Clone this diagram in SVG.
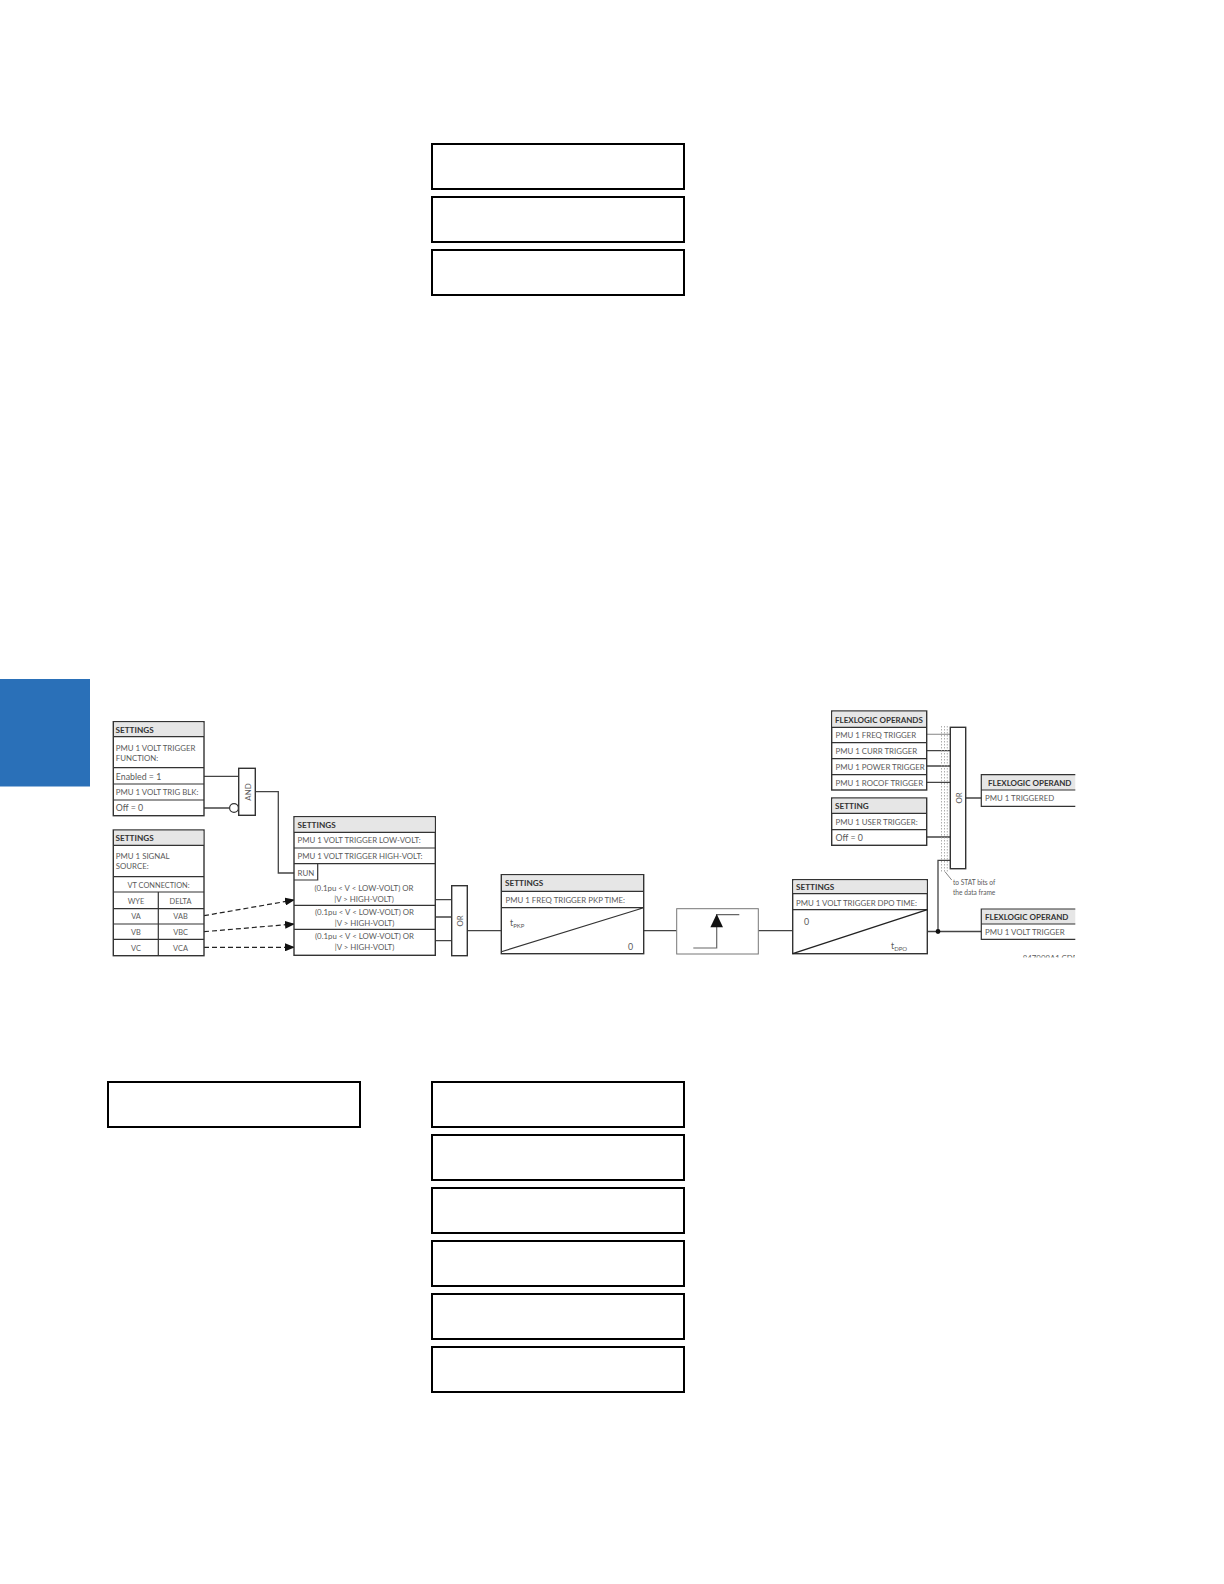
<svg xmlns="http://www.w3.org/2000/svg" width="1224" height="1584" viewBox="0 0 1224 1584">
<style>
text{font-family:Lato,"Liberation Sans",sans-serif;font-size:7.85px;fill:#5a5a5a}
.h{font-weight:700;fill:#333;font-size:8.2px}
.f{font-size:8px}
.l{font-size:8.8px}
.t{font-size:7.4px}
.hd{fill:#e6e6e6;stroke:none}
.b{fill:#fff;stroke:#333;stroke-width:1.4}
.n{fill:none;stroke:#333;stroke-width:1.2}
.c{fill:none;stroke:#444;stroke-width:1.3}
.d{fill:none;stroke:#222;stroke-width:1.2;stroke-dasharray:5 3}
.o{fill:none;stroke:#999;stroke-width:.8;stroke-dasharray:1.5 1.5}
.m{text-anchor:middle}
.w{fill:#fff;stroke:#000;stroke-width:2}
.s{font-size:6.6px}
</style>
<defs>
<marker id="a" markerWidth="10" markerHeight="8" refX="9" refY="4" orient="auto" markerUnits="userSpaceOnUse"><path d="M0 0L10 4L0 8Z" fill="#111"/></marker>
<clipPath id="k"><rect x="1000" y="945" width="75" height="12.5"/></clipPath>
</defs>
<rect id="tab" x="0" y="679" width="90" height="107.5" fill="#2a70b8"/>
<g id="empty-boxes">
<rect class="w" x="432" y="144" width="252" height="45"/>
<rect class="w" x="432" y="197" width="252" height="45"/>
<rect class="w" x="432" y="250" width="252" height="45"/>
<rect class="w" x="108" y="1082" width="252" height="45"/>
<rect class="w" x="432" y="1082" width="252" height="45"/>
<rect class="w" x="432" y="1135" width="252" height="45"/>
<rect class="w" x="432" y="1188" width="252" height="45"/>
<rect class="w" x="432" y="1241" width="252" height="45"/>
<rect class="w" x="432" y="1294" width="252" height="45"/>
<rect class="w" x="432" y="1347" width="252" height="45"/>
</g>
<g id="connectors">
<path class="c" d="M204 776.3H238.7M204 808H229.5M255.3 791.7H278.3V873H294M435.3 899.7H451.7M435.3 917H451.7M435.3 940.7H451.7M467.3 930.7H501.3M643.7 930.7H676.7M758.3 930.7H792.7M927.3 931.5H981.3M938 931.5V860.3H950.3M926.7 750.7H950.3M926.7 766H950.3M926.7 782.3H950.3M926.7 837H950.3M965.7 798H981.3"/>
<path d="M926.7 734.3H950.3" fill="none" stroke="#999" stroke-width="1.2"/>
<path class="d" d="M204 915.7L294 900" marker-end="url(#a)"/>
<path class="d" d="M204 931.7L294 924" marker-end="url(#a)"/>
<path class="d" d="M204 947.3H294" marker-end="url(#a)"/>
<path class="o" d="M941.5 726V872M944.5 726V872M947.3 726V872"/>
<path d="M945 871.7L951.7 880" fill="none" stroke="#666" stroke-width=".8"/>
<circle cx="938" cy="931.5" r="2.4" fill="#111"/>
</g>
<g id="volt-function">
<rect class="b" x="113.3" y="721.7" width="90.7" height="94"/>
<rect class="hd" x="114" y="722.4" width="89.3" height="14.3"/>
<path class="n" d="M113.3 736.7H204M113.3 767.7H204M113.3 784H204M113.3 800H204"/>
<text class="h" x="115.5" y="732.5">SETTINGS</text>
<text x="115.8" y="750.5">PMU 1 VOLT TRIGGER</text>
<text x="115.8" y="760.5">FUNCTION:</text>
<text class="l" x="115.8" y="780">Enabled = 1</text>
<text x="115.8" y="795">PMU 1 VOLT TRIG BLK:</text>
<text class="l" x="115.8" y="811">Off = 0</text>
</g>
<g id="and-gate">
<rect class="b" x="238.7" y="768.3" width="16.6" height="47"/>
<circle cx="234" cy="808" r="4.4" fill="#fff" stroke="#333" stroke-width="1.2"/>
<text class="m" transform="translate(251 792) rotate(-90)">AND</text>
</g>
<g id="signal-source">
<rect class="b" x="113.3" y="830" width="90.7" height="125.7"/>
<rect class="hd" x="114" y="830.7" width="89.3" height="14.6"/>
<path class="n" d="M113.3 845.3H204M113.3 876.7H204M113.3 892H204M113.3 908.7H204M113.3 924H204M113.3 939.3H204M158.3 892V955.7"/>
<text class="h" x="115.5" y="840.5">SETTINGS</text>
<text x="115.8" y="859">PMU 1 SIGNAL</text>
<text x="115.8" y="869">SOURCE:</text>
<text class="m t" x="158.6" y="887.5">VT CONNECTION:</text>
<text class="m t" x="136" y="904">WYE</text><text class="m t" x="180.5" y="904">DELTA</text>
<text class="m t" x="136" y="919">VA</text><text class="m t" x="180.5" y="919">VAB</text>
<text class="m t" x="136" y="935">VB</text><text class="m t" x="180.5" y="935">VBC</text>
<text class="m t" x="136" y="950.5">VC</text><text class="m t" x="180.5" y="950.5">VCA</text>
</g>
<g id="volt-levels">
<rect class="b" x="294" y="816.7" width="141.3" height="138.6"/>
<rect class="hd" x="294.7" y="817.4" width="139.9" height="14.9"/>
<path class="n" d="M294 832.3H435.3M294 848H435.3M294 863.7H435.3M294 905.3H435.3M294 929.3H435.3M317.7 863.7V880H294"/>
<text class="h" x="297.5" y="827.5">SETTINGS</text>
<text x="297.5" y="843">PMU 1 VOLT TRIGGER LOW-VOLT:</text>
<text x="297.5" y="858.5">PMU 1 VOLT TRIGGER HIGH-VOLT:</text>
<text x="297.5" y="876">RUN</text>
<text class="m" x="364" y="891">(0.1pu &lt; V &lt; LOW-VOLT)  OR</text>
<text class="m" x="364" y="902">|V &gt; HIGH-VOLT)</text>
<text class="m" x="364.5" y="915">(0.1pu &lt; V &lt; LOW-VOLT) OR</text>
<text class="m" x="364.5" y="925.5">|V &gt; HIGH-VOLT)</text>
<text class="m" x="364.5" y="939">(0.1pu &lt; V &lt; LOW-VOLT) OR</text>
<text class="m" x="364.5" y="950">|V &gt; HIGH-VOLT)</text>
</g>
<g id="or-gate-1">
<rect class="b" x="451.7" y="885.7" width="15.6" height="70"/>
<text class="m" transform="translate(463 921) rotate(-90)">OR</text>
</g>
<g id="pkp-timer">
<rect class="b" x="501.3" y="874.7" width="142.4" height="79"/>
<rect class="hd" x="502" y="875.4" width="141" height="15.9"/>
<path class="n" d="M501.3 891.3H643.7M501.3 907.7H643.7M501.3 951.7L643.7 907.7"/>
<text class="h" x="505" y="886">SETTINGS</text>
<text x="505.5" y="903">PMU 1 FREQ TRIGGER PKP TIME:</text>
<text class="l" x="510" y="926">t<tspan font-size="6" dy="2">PKP</tspan></text>
<text class="l" x="628" y="950">0</text>
</g>
<g id="edge-detector">
<rect x="676.7" y="908.7" width="81.6" height="45.3" fill="#fff" stroke="#777" stroke-width="1"/>
<path d="M693.3 948H716.7V914.7H739.3" fill="none" stroke="#666" stroke-width="1.2"/>
<path d="M716.7 914L723 927.3H710.4Z" fill="#111"/>
</g>
<g id="dpo-timer">
<rect class="b" x="792.7" y="879.7" width="134.6" height="74"/>
<rect class="hd" x="793.4" y="880.4" width="133.2" height="13.3"/>
<path class="n" d="M792.7 893.7H927.3M792.7 909.7H927.3"/>
<path d="M792.7 953.7L927.3 909.7" fill="none" stroke="#222" stroke-width="1.4"/>
<text class="h" x="796" y="890">SETTINGS</text>
<text x="796" y="905.5">PMU 1 VOLT TRIGGER DPO TIME:</text>
<text class="l" x="804" y="925">0</text>
<text class="l" x="891" y="949">t<tspan font-size="6" dy="2">DPO</tspan></text>
</g>
<g id="flexlogic-operands">
<rect class="b" x="831.7" y="711" width="95" height="79"/>
<rect class="hd" x="832.4" y="711.7" width="93.6" height="15.6"/>
<path class="n" d="M831.7 727.3H926.7M831.7 742.7H926.7M831.7 758.7H926.7M831.7 774.7H926.7"/>
<text class="h f" x="835" y="722.5">FLEXLOGIC OPERANDS</text>
<text x="835.5" y="738">PMU 1 FREQ TRIGGER</text>
<text x="835.5" y="754">PMU 1 CURR TRIGGER</text>
<text x="835.5" y="769.5">PMU 1 POWER TRIGGER</text>
<text x="835.5" y="785.5">PMU 1 ROCOF TRIGGER</text>
</g>
<g id="user-trigger">
<rect class="b" x="831.7" y="798" width="95" height="47.3"/>
<rect class="hd" x="832.4" y="798.7" width="93.6" height="14.6"/>
<path class="n" d="M831.7 813.3H926.7M831.7 829.7H926.7"/>
<text class="h" x="835" y="809">SETTING</text>
<text x="835.5" y="825">PMU 1 USER TRIGGER:</text>
<text class="l" x="835.5" y="841">Off = 0</text>
</g>
<g id="or-gate-2">
<rect class="b" x="950.3" y="727.3" width="15.4" height="141.4"/>
<text class="m" transform="translate(962 798) rotate(-90)">OR</text>
</g>
<g id="triggered-output">
<rect class="hd" x="981.3" y="774.7" width="94" height="15.3"/>
<path class="n" d="M1075.3 774.7H981.3V806.3H1075.3M981.3 790H1075.3"/>
<text class="h f" x="988" y="785.5">FLEXLOGIC OPERAND</text>
<text x="985" y="801">PMU 1 TRIGGERED</text>
</g>
<g id="volt-output">
<rect class="hd" x="981.3" y="909" width="94" height="15"/>
<path class="n" d="M1075.3 909H981.3V939.3H1075.3M981.3 924H1075.3"/>
<text class="h f" x="985" y="919.5">FLEXLOGIC OPERAND</text>
<text x="985" y="935">PMU 1 VOLT TRIGGER</text>
</g>
<g id="notes">
<text class="s" x="953" y="885">to STAT bits of</text>
<text class="s" x="953" y="894.5">the data frame</text>
<text x="1022.7" y="961" clip-path="url(#k)">847009A1.CDR</text>
</g>
</svg>
